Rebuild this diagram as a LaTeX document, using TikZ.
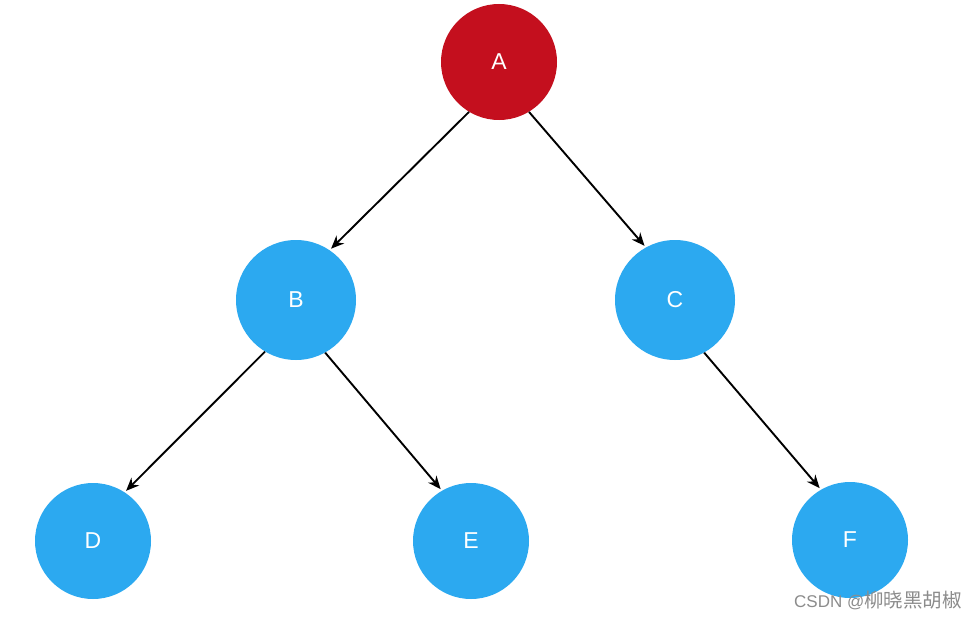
\documentclass[tikz,border=0pt]{standalone}
\usepackage{fontspec}
\setmainfont{Liberation Sans}
\newfontfamily\cjkfont{Noto Sans CJK SC}
\usetikzlibrary{arrows.meta}
\definecolor{nodered}{HTML}{C40F1E}
\definecolor{nodeblue}{HTML}{2CA9F0}
\definecolor{wmgray}{HTML}{8C8C8C}
\begin{document}
\begin{tikzpicture}[x=1pt,y=-1pt,
  treenode/.style={circle,minimum size=116pt,inner sep=0pt,text=white,font=\fontsize{23}{26}\selectfont},
  rednode/.style={treenode,fill=nodered},
  bluenode/.style={treenode,fill=nodeblue},
  edge/.style={-{Stealth[length=13pt,width=11pt]},line width=1.9pt,black,shorten >=2pt}]
\useasboundingbox[fill=white] (0,0) rectangle (978,618);
\node[rednode] (A) at (499,62) {A};
\node[bluenode,minimum size=120pt] (B) at (296,300) {B};
\node[bluenode,minimum size=120pt] (C) at (675,300) {C};
\node[bluenode] (D) at (93,541) {D};
\node[bluenode] (E) at (471,541) {E};
\node[bluenode] (F) at (850,540) {F};
\draw[edge] (A.239) -- (B.56);
\draw[edge] (A.301) -- (C.119);
\draw[edge] (B.239) -- (D.57);
\draw[edge] (B.299) -- (E.120);
\draw[edge] (C.299) -- (F.120);
\node[anchor=base east,inner sep=0pt,text=wmgray] (wm) at (962,607) {\fontsize{17}{18}\selectfont CSDN @\cjkfont\fontsize{19.5}{20}\selectfont 柳晓黑胡椒};
\end{tikzpicture}
\end{document}
